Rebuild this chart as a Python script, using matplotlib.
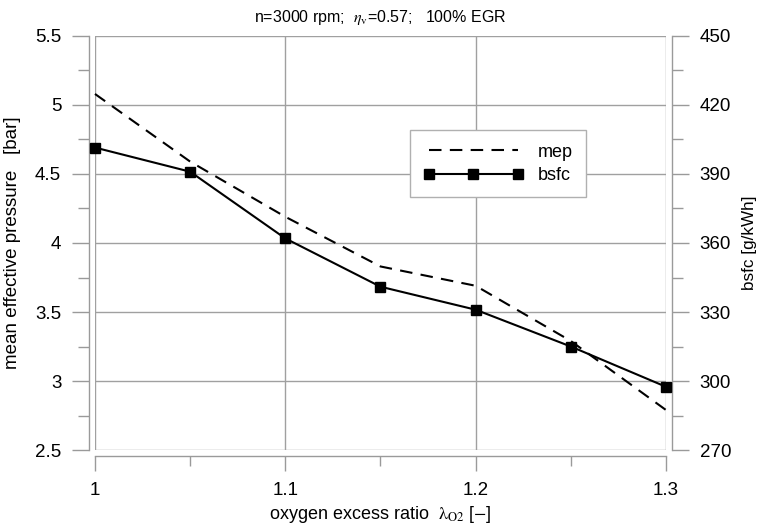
import matplotlib
matplotlib.use("Agg")
import matplotlib.pyplot as plt
from matplotlib.ticker import MultipleLocator, FuncFormatter
from matplotlib.lines import Line2D

plt.rcParams["font.family"] = ["Liberation Sans", "DejaVu Sans"]
plt.rcParams["mathtext.fontset"] = "stix"

# data
lam = [1.0, 1.05, 1.1, 1.15, 1.2, 1.25, 1.3]
mep = [5.08, 4.59, 4.19, 3.83, 3.69, 3.29, 2.79]
bsfc = [401.5, 391.0, 362.0, 341.0, 331.0, 315.0, 297.5]

GRID = "#a0a0a0"
SPINE = "#9a9a9a"


def style_axis(ax):
    for s in ax.spines.values():
        s.set_color(SPINE)
        s.set_linewidth(1.0)
    ax.tick_params(which="major", length=12, width=1.0, color=SPINE, labelsize=13.5, pad=8)
    ax.tick_params(which="minor", length=8, width=1.0, color=SPINE)


fig = plt.figure(figsize=(7.61, 5.27), dpi=100)
ax = fig.add_axes([0.1248, 0.1461, 0.7503, 0.7856])
ax2 = ax.twinx()

ax.plot(lam, mep, color="black", lw=1.5, linestyle=(0, (6, 4)), clip_on=False)
ax2.plot(lam, bsfc, color="black", lw=1.5, marker="s", markersize=7.5,
         clip_on=False, zorder=5)

ax.set_xlim(1.0, 1.3)
ax.set_ylim(2.5, 5.5)
ax2.set_ylim(270, 450)

ax.xaxis.set_major_locator(MultipleLocator(0.1))
ax.xaxis.set_minor_locator(MultipleLocator(0.05))
ax.yaxis.set_major_locator(MultipleLocator(0.5))
ax.yaxis.set_minor_locator(MultipleLocator(0.25))
ax2.yaxis.set_major_locator(MultipleLocator(30))
ax2.yaxis.set_minor_locator(MultipleLocator(15))
fmt = FuncFormatter(lambda v, p: "%g" % round(v, 3))
ax.xaxis.set_major_formatter(fmt)
ax.yaxis.set_major_formatter(fmt)
ax2.yaxis.set_major_formatter(fmt)

ax.grid(True, which="major", color=GRID, lw=1.0)
ax.set_axisbelow(True)

for a in (ax, ax2):
    style_axis(a)
    a.spines["top"].set_visible(False)
ax.spines["right"].set_visible(False)
ax2.spines["left"].set_visible(False)
ax2.spines["bottom"].set_visible(False)
ax.spines["left"].set_position(("outward", 4.3))
ax.spines["bottom"].set_position(("outward", 4.3))
ax2.spines["right"].set_position(("outward", 4.3))
ax.tick_params(axis="x", which="major", length=11)
ax.tick_params(axis="x", which="minor", length=7)

ax.set_xlabel(r"oxygen excess ratio  $\mathrm{\lambda}_{\mathrm{O2}}$ [$-$]", fontsize=13, labelpad=3)
ax.set_ylabel("mean effective pressure   [bar]", fontsize=13.5, labelpad=10)
ax2.set_ylabel("bsfc [g/kWh]", fontsize=12.3, labelpad=8)
ax.set_title(r"n=3000 rpm;  $\eta_{\mathrm{v}}$=0.57;   100% EGR", fontsize=11.5, pad=10)

handles = [
    Line2D([], [], color="black", lw=1.5, linestyle=(0, (6, 4))),
    Line2D([], [], color="black", lw=1.5, marker="s", markersize=7.5),
]
leg = ax2.legend(handles, ["mep", "bsfc"], loc="upper left",
                 bbox_to_anchor=(0.552, 0.773), borderaxespad=0, numpoints=3,
                 handlelength=5.5, fontsize=13, fancybox=False, framealpha=1,
                 edgecolor="#b0b0b0", borderpad=0.75, labelspacing=0.35)
leg.get_frame().set_linewidth(1.0)

fig.savefig("out.png", dpi=100)
